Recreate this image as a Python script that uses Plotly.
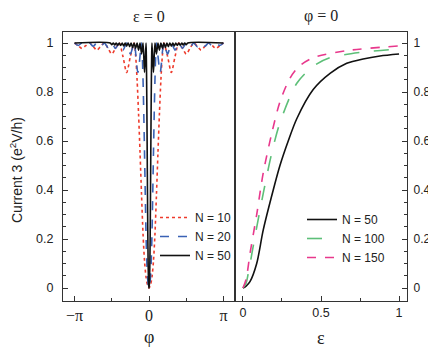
import numpy as np
import plotly.graph_objects as go

# left panel, eps = 0 : half profiles in units of pi (mirrored about phi = 0)
n10_phi = [0, .02, .04, .06, .08, .10, .12, .14, .16, .18, .20,
           .25, .30, .35, .40, .45, .50, .55, .60, .65, .70, .75, .80, .85, .90, .95, 1.0]
n10_cur = [0, .012, .045, .11, .22, .38, .55, .71, .85, .95, 1,
           .945, .88, .945, 1, .978, .955, .978, 1, .986, .971, .986, 1, .989, .978, .989, 1]

n20_phi = [0, .01, .02, .03, .04, .05, .06, .07, .08, .09, .10,
           .15, .20, .25, .30, .35, .40, .45, .50, .55, .60,
           .65, .70, .75, .80, .85, .90, .95, 1.0]
n20_cur = [0, .012, .045, .11, .22, .38, .55, .71, .85, .95, 1,
           .88, 1, .955, 1, .971, 1, .978, 1, .982, 1,
           .985, 1, .987, 1, .988, 1, .99, 1]

n50_phi = [0, .004, .008, .012, .016, .020, .024, .028, .032, .036, .040,
           .06, .08, .10, .12, .14, .16, .18, .20, .22, .24, .26, .28,
           .30, .32, .34, .36, .38, .40, .42, .44, .46, .48, .50, .52, 1.0]
n50_cur = [0, .012, .045, .11, .22, .38, .55, .71, .85, .95, 1,
           .88, 1, .955, 1, .971, 1, .978, 1, .982, 1, .985, 1,
           .987, 1, .988, 1, .99, 1, .991, 1, .992, 1, .993, 1, 1]

# right panel, phi = 0
eps50 = [0, .02, .045, .088, .13, .194, .237, .29, .344, .45, .558, .665, .77, .878, 1.0]
cur50 = [0, .008, .026, .10, .237, .40, .50, .60, .69, .81, .876, .917, .935, .947, .955]

eps100 = [0, .02, .034, .077, .13, .184, .237, .344, .45, .558, .77, 1.0]
cur100 = [0, .02, .06, .21, .386, .55, .675, .835, .905, .94, .963, .976]

eps150 = [0, .02, .045, .088, .13, .184, .237, .30, .36, .45, .665, 1.0]
cur150 = [0, .035, .14, .30, .47, .63, .76, .855, .905, .94, .969, .988]


def mirror(xs, ys):
    xs = np.array(xs)
    ys = np.array(ys)
    return np.concatenate([-xs[::-1], xs[1:]]), np.concatenate([ys[::-1], ys[1:]])


SANS = "Liberation Sans"
SERIF = "Liberation Serif"
INK = "#222"

# page body adds an 8px margin, so lay out in a 428x342 figure
OFF = 8
W, H = 436 - OFF, 350 - OFF


def px(X):
    return (X - OFF) / W


def py(Y):
    return 1 - (Y - OFF) / H


fig = go.Figure()

left = [("N = 10", n10_phi, n10_cur, "#ee3b2c", "dot"),
        ("N = 20", n20_phi, n20_cur, "#3a62b5", "dash"),
        ("N = 50", n50_phi, n50_cur, "#111", "solid")]
for name, phx, phy, col, dash in left:
    x, y = mirror(phx, phy)
    fig.add_trace(go.Scatter(x=x, y=y, name=name, mode="lines",
                             line=dict(color=col, dash=dash, width=1.6, shape="spline", smoothing=0.8),
                             xaxis="x", yaxis="y", legend="legend"))

right = [("N = 50", eps50, cur50, "#111", "solid"),
         ("N = 100", eps100, cur100, "#5dbf78", "longdash"),
         ("N = 150", eps150, cur150, "#e8388c", "dash")]
for name, ex, ey, col, dash in right:
    fig.add_trace(go.Scatter(x=ex, y=ey, name=name, mode="lines",
                             line=dict(color=col, dash=dash, width=1.6, shape="spline", smoothing=0.8),
                             xaxis="x2", yaxis="y2", legend="legend2"))

frame = dict(showline=True, linecolor="#333", linewidth=1.2, mirror=True,
             showgrid=False, zeroline=False, ticks="inside", ticklen=5,
             tickcolor="#333", tickwidth=1.2)
minor_tick = dict(ticks="inside", ticklen=3, tickcolor="#333", tickwidth=1)
yvals = [0, .2, .4, .6, .8, 1]
ytext = ["0", "0.2", "0.4", "0.6", "0.8", "1"]
tick_font = dict(family=SANS, size=12.5, color=INK)

fig.update_layout(
    width=W, height=H, margin=dict(l=0, r=0, t=0, b=0),
    paper_bgcolor="white", plot_bgcolor="white",
    font=dict(family=SANS, size=12, color=INK),
    xaxis=dict(frame, domain=[px(63), px(235)], range=[-1.155, 1.155], anchor="y",
               tickvals=[-1, 0, 1], ticktext=["\u2212\u03c0", "0", "\u03c0"],
               tickfont=dict(family=SERIF, size=16, color=INK),
               minor=dict(minor_tick, tickvals=[-0.5, 0.5])),
    yaxis=dict(frame, domain=[py(301), py(32)], range=[-0.053, 1.045], anchor="x",
               tickvals=yvals, ticktext=ytext, ticklabelstandoff=6, tickfont=tick_font,
               minor=dict(minor_tick, dtick=0.05)),
    xaxis2=dict(frame, domain=[px(235), px(407)], range=[-0.051, 1.051], anchor="y2",
                tickvals=[0, 0.5, 1], ticktext=["0", "0.5", "1"], tickfont=tick_font,
                minor=dict(minor_tick, tickvals=[0.25, 0.75])),
    yaxis2=dict(frame, domain=[py(301), py(32)], range=[-0.053, 1.045], anchor="x2", side="right",
                tickvals=yvals, ticktext=ytext, ticklabelstandoff=3,
                tickfont=dict(family=SANS, size=12, color=INK),
                minor=dict(minor_tick, dtick=0.05)),
    legend=dict(x=px(155), y=py(203), xanchor="left", yanchor="top",
                bgcolor="rgba(0,0,0,0)", tracegroupgap=0,
                font=dict(family=SANS, size=12, color=INK)),
    legend2=dict(x=px(302), y=py(205), xanchor="left", yanchor="top",
                 bgcolor="rgba(0,0,0,0)", tracegroupgap=0,
                 font=dict(family=SANS, size=12, color=INK)),
)

notes = [
    ("\u03b5 = 0", 149, 16, SERIF, 16, 0),
    ("\u03c6 = 0", 321, 16, SERIF, 16, 0),
    ("\u03c6", 149, 337, SERIF, 18, 0),
    ("\u03b5", 321, 338, SERIF, 18, 0),
    ("Current 3 (e<sup>2</sup>V/h)", 16, 170, SANS, 14, -90),
]
for text, X, Y, fam, size, ang in notes:
    fig.add_annotation(text=text, x=px(X), y=py(Y), xref="paper", yref="paper",
                       showarrow=False, textangle=ang, xanchor="center", yanchor="middle",
                       font=dict(family=fam, size=size, color=INK))

fig.write_html("out.html")
